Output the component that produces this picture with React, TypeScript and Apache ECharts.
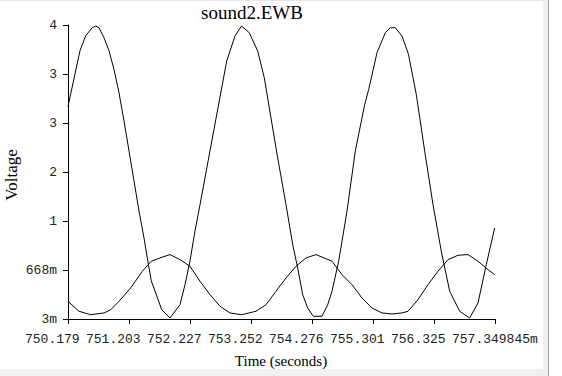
import React, { useEffect, useRef } from "react";
import * as echarts from "echarts";

const titleText = "sound2.EWB";
const xAxisTitle = "Time (seconds)";
const yAxisTitle = "Voltage";

// x ticks (ms) and the part of each tick label that is readable in the chart
const xTickValues = [750.179003, 751.203409, 752.227815, 753.252221, 754.276627, 755.301033, 756.325439, 757.349845];
const xTickLabels = ["750.179", "751.203", "752.227", "753.252", "754.276", "755.301", "756.325", "757.349845m"];
const yTickValues = [0.003, 0.668, 1.333, 1.998, 2.663, 3.328, 3.993];
const yTickLabels = ["3m", "668m", "1", "2", "3", "3", "4"];

// Large waveform (time in ms, voltage in V)
const bigTime = [
  750.179, 750.3805, 750.4762, 750.5871, 750.6442, 750.6996, 750.7835, 750.8675, 750.9515, 751.0354,
  751.1194, 751.2034, 751.2873, 751.3713, 751.4553, 751.5107, 751.5779, 751.64, 751.7525, 751.8919,
  752.0598, 752.1438, 752.2277, 752.3117, 752.3957, 752.5636, 752.7315, 752.844, 752.9834, 753.0926,
  753.2236, 753.3646, 753.4755, 753.5594, 753.7005, 753.8399, 753.9524, 754.0364, 754.1203, 754.2043,
  754.2983, 754.4444, 754.5402, 754.6124, 754.7249, 754.8643, 755.0036, 755.1615, 755.2287, 755.368,
  755.5074, 755.5914, 755.6754, 755.7879, 755.897, 756.028, 756.1691, 756.3084, 756.4478, 756.5889,
  756.7568, 756.9247, 757.0641, 757.2035, 757.3446,
];
const bigVolt = [
  2.887, 3.644, 3.848, 3.956, 3.979, 3.956, 3.82, 3.644, 3.39, 3.073,
  2.693, 2.285, 1.878, 1.47, 1.103, 0.832, 0.519, 0.383, 0.129, 0.017,
  0.197, 0.469, 0.791, 1.198, 1.552, 2.285, 3.015, 3.504, 3.844, 3.979,
  3.888, 3.64, 3.277, 2.869, 2.19, 1.556, 1.012, 0.696, 0.333, 0.152,
  0.04, 0.04, 0.197, 0.379, 0.787, 1.466, 2.281, 2.914, 3.118, 3.617,
  3.888, 3.956, 3.956, 3.844, 3.594, 3.05, 2.281, 1.556, 0.923, 0.379,
  0.108, 0.017, 0.22, 0.741, 1.239,
];

// Small waveform
const smallTime = [
  750.179, 750.3637, 750.5602, 750.7835, 750.8961, 751.0354, 751.2319, 751.4267, 751.5779, 751.724,
  751.8919, 752.0598, 752.2277, 752.3957, 752.5636, 752.7315, 752.8995, 753.096, 753.3361, 753.504,
  753.6719, 753.8399, 754.0078, 754.1757, 754.3437, 754.6124, 754.7803, 754.9482, 755.1161, 755.2841,
  755.452, 755.6199, 755.7879, 755.8886, 756.0566, 756.2245, 756.3924, 756.5603, 756.7283, 756.8962,
  757.0641, 757.2321, 757.3446,
];
const smallVolt = [
  0.243, 0.108, 0.061, 0.085, 0.129, 0.243, 0.424, 0.651, 0.787, 0.832,
  0.877, 0.809, 0.719, 0.515, 0.333, 0.176, 0.085, 0.061, 0.108, 0.197,
  0.379, 0.56, 0.719, 0.832, 0.877, 0.787, 0.605, 0.469, 0.288, 0.152,
  0.085, 0.071, 0.085, 0.108, 0.265, 0.469, 0.651, 0.809, 0.868, 0.877,
  0.787, 0.673, 0.605,
];

function nearestLabel(values: number[], labels: string[], v: number): string {
  let best = 0;
  let bd = Infinity;
  for (let i = 0; i < values.length; i++) {
    const d = Math.abs(values[i] - v);
    if (d < bd) {
      bd = d;
      best = i;
    }
  }
  return labels[best];
}

export default function App() {
  const ref = useRef<HTMLDivElement>(null);

  useEffect(() => {
    if (!ref.current) return;
    const chart = echarts.init(ref.current, undefined, { renderer: "svg" });
    const bigData = bigTime.map((t, i) => [t, bigVolt[i]]);
    const smallData = smallTime.map((t, i) => [t, smallVolt[i]]);

    const staticGraphics: any[] = [
      { type: "rect", shape: { x: 0, y: 0, width: 548, height: 1 }, style: { fill: "#e6e6e6" }, silent: true },
      { type: "rect", shape: { x: 0, y: 369, width: 548, height: 7 }, style: { fill: "#f0f0f0" }, silent: true },
      { type: "rect", shape: { x: 543, y: 0, width: 5, height: 376 }, style: { fill: "#f0f0f0" }, silent: true },
      { type: "rect", shape: { x: 548, y: 0, width: 1, height: 376 }, style: { fill: "#a0a0a0" }, silent: true },
      {
        type: "text",
        x: 252,
        y: 12,
        style: {
          text: titleText,
          fontFamily: "Liberation Serif",
          fontSize: 19,
          fill: "#000",
          textAlign: "center",
          textVerticalAlign: "middle",
        },
      },
      {
        type: "text",
        x: 281,
        y: 361,
        style: {
          text: xAxisTitle,
          fontFamily: "Liberation Serif",
          fontSize: 15,
          fill: "#000",
          textAlign: "center",
          textVerticalAlign: "middle",
        },
      },
      {
        type: "text",
        x: 11,
        y: 175,
        rotation: Math.PI / 2,
        style: {
          text: yAxisTitle,
          fontFamily: "Liberation Serif",
          fontSize: 17,
          fill: "#000",
          textAlign: "center",
          textVerticalAlign: "middle",
        },
      },
    ];

    chart.setOption({
      animation: false,
      backgroundColor: "#ffffff",
      grid: { left: 68, right: 67, top: 25, bottom: 57 },
      xAxis: {
        type: "value",
        min: xTickValues[0],
        max: xTickValues[xTickValues.length - 1],
        axisLine: { show: true, lineStyle: { color: "#000", width: 1 } },
        axisTick: {
          show: true,
          customValues: xTickValues,
          length: 5,
          lineStyle: { color: "#000", width: 1 },
        },
        axisLabel: { show: false },
        splitLine: { show: false },
      },
      yAxis: {
        type: "value",
        min: yTickValues[0],
        max: yTickValues[yTickValues.length - 1],
        axisLine: { show: true, lineStyle: { color: "#000", width: 1 } },
        axisTick: {
          show: true,
          customValues: yTickValues,
          length: 5,
          lineStyle: { color: "#000", width: 1 },
        },
        axisLabel: {
          customValues: yTickValues,
          formatter: (v: number) => nearestLabel(yTickValues, yTickLabels, v),
          fontFamily: "Liberation Mono",
          fontSize: 13,
          color: "#222",
          margin: 11,
          showMinLabel: true,
          showMaxLabel: true,
        },
        splitLine: { show: false },
      },
      graphic: staticGraphics,
      series: [
        {
          type: "line",
          data: bigData,
          showSymbol: false,
          smooth: false,
          lineStyle: { color: "#000", width: 1 },
          clip: true,
        },
        {
          type: "line",
          data: smallData,
          showSymbol: false,
          smooth: false,
          lineStyle: { color: "#000", width: 1 },
          clip: true,
        },
      ],
    });

    // x tick labels placed through the axis scale (the overlapping labels of the
    // original leave only the leading part of each value readable)
    const axisY = chart.convertToPixel({ yAxisIndex: 0 }, yTickValues[0]) as number;
    const labelGraphics = xTickValues.map((v, i) => {
      const px = chart.convertToPixel({ xAxisIndex: 0 }, v) as number;
      return {
        type: "text",
        x: px - 43,
        y: axisY + 20,
        style: {
          text: xTickLabels[i],
          fontFamily: "Liberation Mono",
          fontSize: 13,
          fill: "#222",
          textAlign: "left",
          textVerticalAlign: "middle",
        },
      };
    });
    chart.setOption({ graphic: [...staticGraphics, ...labelGraphics] });

    return () => {
      chart.dispose();
    };
  }, []);

  return (
    <div
      ref={ref}
      style={{ position: "fixed", left: 0, top: 0, width: 562, height: 376 }}
    />
  );
}
